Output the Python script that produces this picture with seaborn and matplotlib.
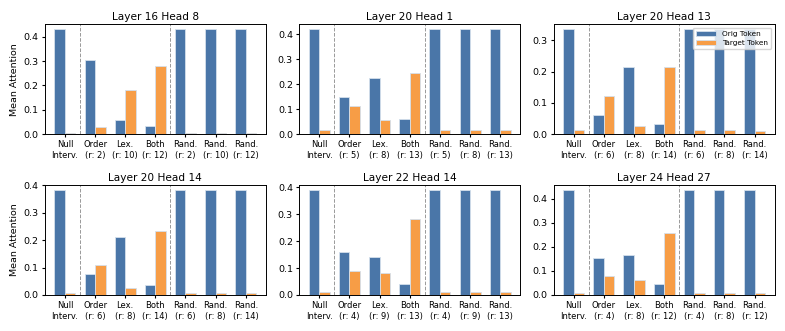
import matplotlib
matplotlib.use("Agg")
import matplotlib.pyplot as plt
from matplotlib.ticker import MultipleLocator
import seaborn as sns
import pandas as pd

titles = ["Layer 16 Head 8", "Layer 20 Head 1", "Layer 20 Head 13",
          "Layer 20 Head 14", "Layer 22 Head 14", "Layer 24 Head 27"]

# r values per panel: order, lex, both
r_vals = [(2, 10, 12), (5, 8, 13), (6, 8, 14), (6, 8, 14), (4, 9, 13), (4, 8, 12)]

orig_vals = [
    [0.430, 0.305, 0.060, 0.033, 0.430, 0.430, 0.430],
    [0.420, 0.148, 0.225, 0.060, 0.420, 0.420, 0.420],
    [0.335, 0.063, 0.215, 0.034, 0.335, 0.335, 0.335],
    [0.383, 0.077, 0.210, 0.037, 0.383, 0.383, 0.383],
    [0.390, 0.160, 0.142, 0.040, 0.390, 0.390, 0.390],
    [0.435, 0.155, 0.167, 0.045, 0.435, 0.435, 0.435],
]
target_vals = [
    [0.007, 0.030, 0.182, 0.280, 0.006, 0.006, 0.006],
    [0.016, 0.112, 0.056, 0.245, 0.016, 0.015, 0.015],
    [0.012, 0.123, 0.025, 0.216, 0.012, 0.012, 0.011],
    [0.008, 0.111, 0.027, 0.233, 0.008, 0.008, 0.008],
    [0.012, 0.089, 0.081, 0.284, 0.012, 0.012, 0.012],
    [0.009, 0.080, 0.062, 0.258, 0.009, 0.009, 0.009],
]

series_names = ["Orig Token", "Target Token"]
palette = {"Orig Token": "#4A76A8", "Target Token": "#F79D46"}


def make_labels(r):
    o, l, b = r
    return ["Null\nInterv.", f"Order\n(r: {o})", f"Lex.\n(r: {l})", f"Both\n(r: {b})",
            f"Rand.\n(r: {o})", f"Rand.\n(r: {l})", f"Rand.\n(r: {b})"]


fig, axes = plt.subplots(2, 3, figsize=(7.85, 3.31), dpi=100)

for i, ax in enumerate(axes.flat):
    labels = make_labels(r_vals[i])
    rows = []
    for j, lab in enumerate(labels):
        rows.append({"cond": lab, "series": "Orig Token", "val": orig_vals[i][j]})
        rows.append({"cond": lab, "series": "Target Token", "val": target_vals[i][j]})
    df = pd.DataFrame(rows)
    sns.barplot(data=df, x="cond", y="val", hue="series", order=labels,
                hue_order=series_names, palette=palette, width=0.7, saturation=1,
                edgecolor="#d4e0ec", linewidth=0.6, ax=ax, legend=(i == 2))
    for xv in (0.5, 3.5):
        ax.axvline(xv, color="grey", linestyle="--", linewidth=0.7, alpha=0.8)
    ax.set_title(titles[i], fontsize=7.6, pad=3)
    ax.set_xlabel("")
    ax.set_ylabel("Mean Attention" if i % 3 == 0 else "", fontsize=6.8, labelpad=3)
    ax.yaxis.set_major_locator(MultipleLocator(0.1))
    ax.tick_params(axis="x", labelsize=6, length=2.5, pad=2)
    ax.tick_params(axis="y", labelsize=6.8, length=2.5, pad=2)
    for sp in ax.spines.values():
        sp.set_linewidth(0.7)
    ax.set_xlim(-0.67, 6.67)
    if i == 2:
        ax.legend(loc="upper right", fontsize=5.3, frameon=True, borderpad=0.4,
                  handlelength=2.8, labelspacing=0.35)

fig.subplots_adjust(left=0.057, right=0.987, top=0.927, bottom=0.109,
                    wspace=0.15, hspace=0.46)
fig.savefig("out.png", dpi=100)
